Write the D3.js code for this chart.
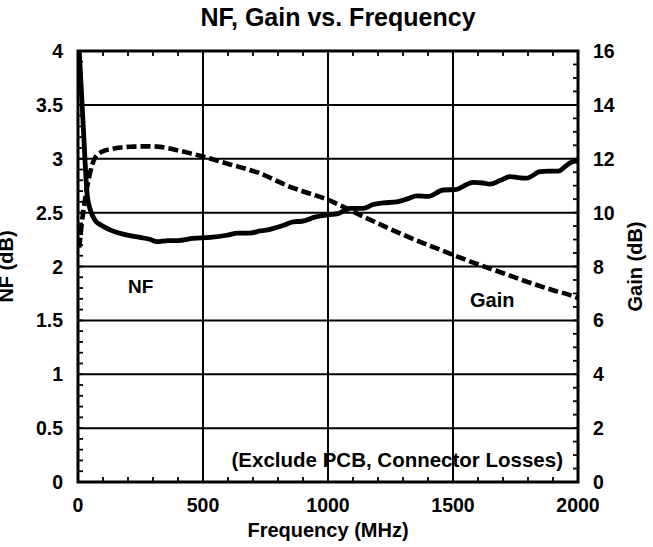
<!DOCTYPE html>
<html><head><meta charset="utf-8">
<script src="https://cdn.jsdelivr.net/npm/d3@7"></script>
<style>body{margin:0;background:#fff;} text{font-family:"Liberation Sans",Arial,sans-serif;font-weight:bold;fill:#000;}</style>
</head><body>
<svg id="c" width="653" height="547"></svg>
<script>
const title = "NF, Gain vs. Frequency";
const xTicks = [0, 500, 1000, 1500, 2000];
const nfTicks = [0, 0.5, 1, 1.5, 2, 2.5, 3, 3.5, 4];
const gainTicks = [0, 2, 4, 6, 8, 10, 12, 14, 16];
const nfFreq = [5,20,37,50,68,95,128,180,248,290,315,360,400,460,530,595,640,688,728,768,820,861,895,950,1000,1040,1088,1141,1180,1221,1275,1320,1355,1400,1461,1515,1545,1581,1620,1648,1690,1728,1760,1795,1848,1880,1921,1950,1975,2000];
const nfValues = [4.0,3.35,2.66,2.52,2.43,2.38,2.34,2.30,2.27,2.25,2.23,2.24,2.24,2.26,2.27,2.29,2.31,2.31,2.33,2.345,2.38,2.415,2.42,2.46,2.48,2.49,2.54,2.54,2.575,2.59,2.60,2.63,2.655,2.65,2.71,2.715,2.75,2.78,2.775,2.765,2.80,2.834,2.825,2.82,2.88,2.885,2.885,2.93,2.97,2.98];
const gainFreq = [5,15,28,48,68,100,128,170,221,270,315,360,395,450,501,560,620,688,728,790,848,920,1001,1060,1115,1200,1288,1400,1501,1600,1701,1800,1900,1968,2000];
const gainValues = [8.7,9.6,10.47,11.47,12.03,12.28,12.35,12.42,12.45,12.46,12.45,12.39,12.32,12.2,12.08,11.92,11.76,11.58,11.46,11.2,10.96,10.73,10.47,10.22,9.97,9.6,9.23,8.8,8.43,8.08,7.75,7.42,7.12,6.94,6.83];

const L=78, R=578, T=51, B=482;
const svg = d3.select("#c");
const x = d3.scaleLinear().domain([0,2000]).range([L,R]);
const yN = d3.scaleLinear().domain([0,4]).range([B,T]);
const yG = d3.scaleLinear().domain([0,16]).range([B,T]);

// grid
const g = svg.append("g").attr("stroke","#000").attr("stroke-width",2);
xTicks.slice(1,-1).forEach(v=>g.append("line").attr("x1",x(v)).attr("x2",x(v)).attr("y1",T).attr("y2",B));
nfTicks.slice(1,-1).forEach(v=>g.append("line").attr("x1",L).attr("x2",R).attr("y1",yN(v)).attr("y2",yN(v)));

// minor ticks
const mt = svg.append("g").attr("stroke","#000").attr("stroke-width",1.8);
d3.range(0,2001,100).forEach(v=>{
  mt.append("line").attr("x1",x(v)).attr("x2",x(v)).attr("y1",B).attr("y2",B-5);
  mt.append("line").attr("x1",x(v)).attr("x2",x(v)).attr("y1",T).attr("y2",T+5);
});
d3.range(0,41).forEach(i=>{const v=i/10; mt.append("line").attr("x1",L).attr("x2",L+5).attr("y1",yN(v)).attr("y2",yN(v));});
d3.range(0,33).forEach(i=>{const v=i/2; mt.append("line").attr("x1",R).attr("x2",R-5).attr("y1",yG(v)).attr("y2",yG(v));});

// frame
svg.append("rect").attr("x",L).attr("y",T).attr("width",R-L).attr("height",B-T).attr("fill","none").attr("stroke","#000").attr("stroke-width",3);

// lines
svg.append("clipPath").attr("id","pc").append("rect").attr("x",L).attr("y",T-2).attr("width",R-L+2).attr("height",B-T+4);
const nfLine = d3.line().x((d,i)=>x(nfFreq[i])).y(d=>yN(d)).curve(d3.curveMonotoneX);
const gLine = d3.line().x((d,i)=>x(gainFreq[i])).y(d=>yG(d)).curve(d3.curveMonotoneX);
svg.append("path").attr("d",gLine(gainValues)).attr("fill","none").attr("stroke","#000").attr("stroke-width",4.6).attr("stroke-dasharray","10,4").attr("clip-path","url(#pc)");
svg.append("path").attr("d",nfLine(nfValues)).attr("fill","none").attr("stroke","#000").attr("stroke-width",4.8).attr("stroke-linejoin","round").attr("clip-path","url(#pc)");

// tick labels
const fs = 19.5;
xTicks.forEach(v=>svg.append("text").attr("x",x(v)).attr("y",B+30).attr("text-anchor","middle").attr("font-size",fs).text(v));
nfTicks.forEach(v=>svg.append("text").attr("x",L-15).attr("y",yN(v)+7).attr("text-anchor","end").attr("font-size",fs).text(v));
gainTicks.forEach(v=>svg.append("text").attr("x",R+15).attr("y",yG(v)+7).attr("text-anchor","start").attr("font-size",fs).text(v));

// titles
svg.append("text").attr("x",338).attr("y",26).attr("text-anchor","middle").attr("font-size",25).text(title);
svg.append("text").attr("x",(L+R)/2).attr("y",537).attr("text-anchor","middle").attr("font-size",20).text("Frequency (MHz)");
svg.append("text").attr("transform",`translate(13,${(T+B)/2}) rotate(-90)`).attr("text-anchor","middle").attr("font-size",20).text("NF (dB)");
svg.append("text").attr("transform",`translate(642,${(T+B)/2}) rotate(-90)`).attr("text-anchor","middle").attr("font-size",20).text("Gain (dB)");

// annotations
svg.append("text").attr("x",128).attr("y",293).attr("font-size",19).text("NF");
svg.append("text").attr("x",470).attr("y",307).attr("font-size",20).text("Gain");
svg.append("text").attr("x",563).attr("y",467).attr("text-anchor","end").attr("font-size",20.5).text("(Exclude PCB, Connector Losses)");
</script>
</body></html>
